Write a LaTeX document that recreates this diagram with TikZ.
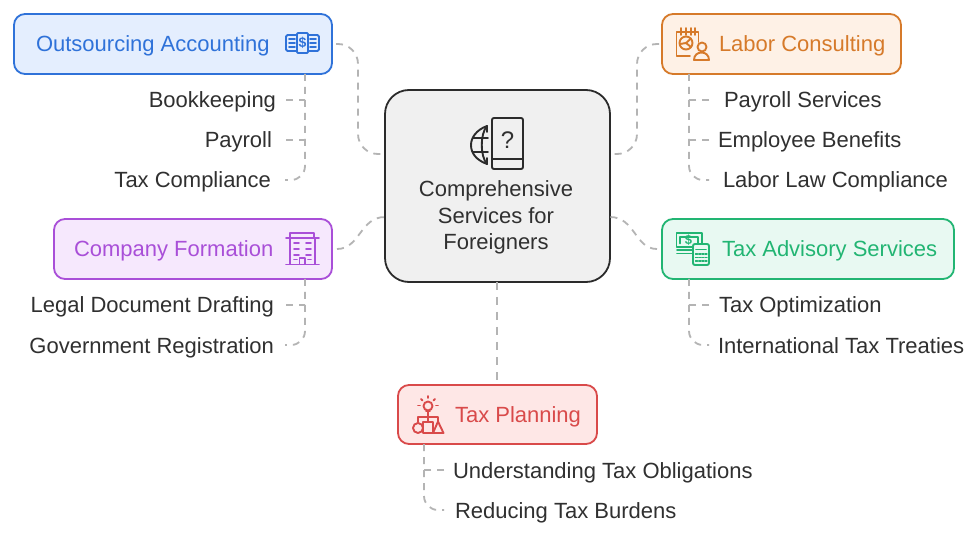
\documentclass[tikz,border=0pt]{standalone}
\usepackage{fontspec}
\setmainfont{Liberation Sans}
\definecolor{cblue}{HTML}{2F72D9}\definecolor{fblue}{HTML}{E4EEFE}
\definecolor{corange}{HTML}{D67A2A}\definecolor{forange}{HTML}{FEF1E6}
\definecolor{cpurple}{HTML}{A94FD8}\definecolor{fpurple}{HTML}{F6E8FD}
\definecolor{cgreen}{HTML}{22B573}\definecolor{fgreen}{HTML}{E8F9F2}
\definecolor{cred}{HTML}{D94A4A}\definecolor{fred}{HTML}{FEE7E6}
\definecolor{cdark}{HTML}{2B2B2B}\definecolor{fmain}{HTML}{F0F0F0}
\definecolor{cline}{HTML}{B4B4B4}\definecolor{ctext}{HTML}{303030}
\tikzset{
  x=1pt,y=-1pt,
  box/.style={draw=#1,line width=1.8pt,rounded corners=11pt,inner sep=0pt,outer sep=0pt,anchor=north west},
  txt/.style={font=\fontsize{22}{26}\selectfont,inner sep=0pt,outer sep=0pt},
  head/.style={txt,anchor=base west,text=#1},
  subr/.style={txt,text=ctext,anchor=base east,inner ysep=0pt,inner xsep=#1,text height=16pt,text depth=0pt},
  subl/.style={txt,text=ctext,anchor=base west,inner ysep=0pt,inner xsep=#1,text height=16pt,text depth=0pt},
  conn/.style={draw=cline,line width=1.8pt,dash pattern=on 7pt off 6pt},
  ico/.style={draw=#1,line width=1.9pt,line join=round,line cap=round},
  sym/.style={font=\fontsize{#1}{#1}\selectfont\bfseries,inner sep=0pt},
}
\begin{document}
\begin{tikzpicture}
\useasboundingbox[fill=white] (0,0) rectangle (980,537);
% main box
\node[box=cdark,fill=fmain,rounded corners=24pt,minimum width=225pt,minimum height=192pt] (main) at (385,90) {};
\node[txt,text=ctext,align=center,font=\fontsize{22}{26.5}\selectfont,anchor=center] (maint) at (496,217.5) {Comprehensive\\Services for\\Foreigners};
% category boxes
\node[box=cblue,fill=fblue,minimum width=318pt,minimum height=60pt] (oa) at (14,14) {};
\node[box=corange,fill=forange,minimum width=239pt,minimum height=60pt] (lc) at (662,14) {};
\node[box=cpurple,fill=fpurple,minimum width=278pt,minimum height=60pt] (cf) at (54,219) {};
\node[box=cgreen,fill=fgreen,minimum width=292pt,minimum height=60pt] (ta) at (662,219) {};
\node[box=cred,fill=fred,minimum width=199pt,minimum height=59pt] (tp) at (398,385) {};
% titles
\node[head=cblue] (oat) at (36,52) {Outsourcing Accounting};
\node[head=corange] (lct) at (719,52) {Labor Consulting};
\node[head=cpurple] (cft) at (74,257) {Company Formation};
\node[head=cgreen] (tat) at (722,257) {Tax Advisory Services};
\node[head=cred] (tpt) at (455,422) {Tax Planning};
% sub labels
\node[subr=10pt] (bk) at (286,108) {Bookkeeping};
\node[subr=14pt] (pr) at (286,148) {Payroll};
\node[subr=14pt] (tc) at (285,188) {Tax Compliance};
\node[subl=15pt] (ps) at (709,108) {Payroll Services};
\node[subl=9pt] (eb) at (709,148) {Employee Benefits};
\node[subl=14pt] (ll) at (709,188) {Labor Law Compliance};
\node[subr=12pt] (ld) at (286,313) {Legal Document Drafting};
\node[subr=11pt] (gr) at (285,353) {Government Registration};
\node[subl=10pt] (to) at (709,313) {Tax Optimization};
\node[subl=9pt] (it) at (709,353) {International Tax Treaties};
\node[subl=9pt] (ut) at (444,478) {Understanding Tax Obligations};
\node[subl=11pt] (rt) at (444,518) {Reducing Tax Burdens};
% helper coordinates
\coordinate (mo) at (385,154); \coordinate (mc) at (385,217);
\coordinate (ml) at (610,154); \coordinate (ma) at (610,217);
\coordinate (xl) at (358,100); \coordinate (xr) at (637,100);
\coordinate (cc1) at (360,249); \coordinate (cc2) at (360,217);
\coordinate (ac1) at (635,249); \coordinate (ac2) at (635,217);
\coordinate (t1) at (305,74); \coordinate (t2) at (689,74);
\coordinate (t3) at (305,279); \coordinate (t4) at (689,279);
\coordinate (t5) at (424,444);
\coordinate (mx) at (497,330);
% main connectors
\draw[conn,rounded corners=20pt,shorten <=4pt] (oa.east) -| (xl) |- (mo);
\draw[conn,shorten <=5pt] (cf.east) .. controls (cc1) and (cc2) .. (mc);
\draw[conn,rounded corners=20pt,shorten <=3pt] (lc.west) -| (xr) |- (ml);
\draw[conn,shorten <=5pt] (ta.west) .. controls (ac1) and (ac2) .. (ma);
\draw[conn,dash pattern=on 8pt off 7pt] (main.south -| mx) -- (tp.north -| mx);
% sub connectors
\draw[conn,rounded corners=14pt] (t1) |- (tc.east);
\draw[conn] (bk.east) -- (bk.east -| t1);
\draw[conn] (pr.east) -- (pr.east -| t1);
\draw[conn,rounded corners=14pt] (t2) |- (ll.west);
\draw[conn] (ps.west) -- (ps.west -| t2);
\draw[conn] (eb.west) -- (eb.west -| t2);
\draw[conn,rounded corners=14pt] (t3) |- (gr.east);
\draw[conn] (ld.east) -- (ld.east -| t3);
\draw[conn,rounded corners=14pt] (t4) |- (it.west);
\draw[conn] (to.west) -- (to.west -| t4);
\draw[conn,rounded corners=14pt] (t5) |- (rt.west);
\draw[conn] (ut.west) -- (ut.west -| t5);
% icon: main
\begin{scope}[ico=cdark]
\draw[rounded corners=2pt] (492,118) rectangle (523,169);
\draw (492,159) -- (523,159);
\draw (487,126) .. controls (476,130) and (471,138) .. (471,145) .. controls (471,153) and (476,160) .. (487,164);
\draw (487,126) .. controls (480,134) and (480,156) .. (487,164);
\draw (473,138) -- (488,138); \draw (473,152) -- (488,152); \draw (487,126) -- (487,132); \draw (487,158) -- (487,164);
\end{scope}
\node[txt,text=ctext,font=\fontsize{24}{24}\selectfont] (qm) at (507.5,140) {?};
% icon: outsourcing
\begin{scope}[ico=cblue]
\draw[rounded corners=1.5pt] (286,35) rectangle (319,51);
\draw[fill=fblue,rounded corners=1pt] (297,33) rectangle (308,53);
\foreach \yy in {39,43,47}{\draw (289,\yy) -- (295,\yy); \draw (310,\yy) -- (316,\yy);}
\end{scope}
\node[sym=14,text=cblue] (dl1) at (302.5,43) {\$};
% icon: labor
\begin{scope}[ico=corange]
\draw (690,56) -- (676.5,56) -- (676.5,32) -- (698.5,32) -- (698.5,42);
\foreach \xx in {681,686,691,695}{\draw (\xx,28) -- (\xx,35);}
\draw (686,43) circle (6.5);
\draw (680,44) -- (686,43) -- (691,38.5); \draw (686,43) -- (691,47);
\draw (702,47) circle (4.5);
\draw (694,60) .. controls (694,50) and (709,50) .. (709,60) -- cycle;
\end{scope}
% icon: company
\begin{scope}[ico=cpurple]
\draw (290,238) -- (290,233) -- (314,233) -- (314,238);
\draw (286,238) -- (319,238);
\draw (290,238) -- (290,264); \draw (315,238) -- (315,264);
\draw (286,264.5) -- (319,264.5);
\foreach \yy in {243,249,255}{\draw (294,\yy) -- (299,\yy); \draw (306,\yy) -- (311,\yy);}
\draw (294,259.5) -- (297,259.5); \draw (308,259.5) -- (311,259.5);
\draw (299.5,264) -- (299.5,258) -- (305,258) -- (305,264);
\end{scope}
% icon: tax advisory
\begin{scope}[ico=cgreen]
\draw (692,247) -- (676.5,247) -- (676.5,233) -- (702,233) -- (702,243);
\draw (680,243.5) -- (680,237) -- (698,237) -- (698,243);
\draw (677,250) -- (692,250); \draw (677,253.5) -- (692,253.5);
\draw[rounded corners=2pt] (693,244) rectangle (709,265);
\draw (696,249.5) -- (706,249.5);
\foreach \yy in {254,257.5,261}{\draw[line width=1.3pt,dash pattern=on 2pt off 1.2pt] (695.5,\yy) -- (707,\yy);}
\end{scope}
\node[sym=13,text=cgreen] (dl2) at (688.5,240.5) {\$};
% icon: tax planning
\begin{scope}[ico=cred]
\draw (428,406) circle (4.5);
\draw (426,411) -- (430,411); \draw (428,411) -- (428,417);
\draw (428,396) -- (428,398); \draw (418,405.5) -- (420,405.5); \draw (436,405.5) -- (438,405.5);
\draw (421,399) -- (422.5,400.5); \draw (435,399) -- (433.5,400.5);
\draw (418,422) -- (418,417) -- (438,417) -- (438,421); \draw (428,417) -- (428,422);
\draw (418,428) circle (5);
\draw (423,422) rectangle (433,433);
\draw (438,421.5) -- (443.5,433) -- (433,433) -- cycle;
\end{scope}
\end{tikzpicture}
\end{document}
